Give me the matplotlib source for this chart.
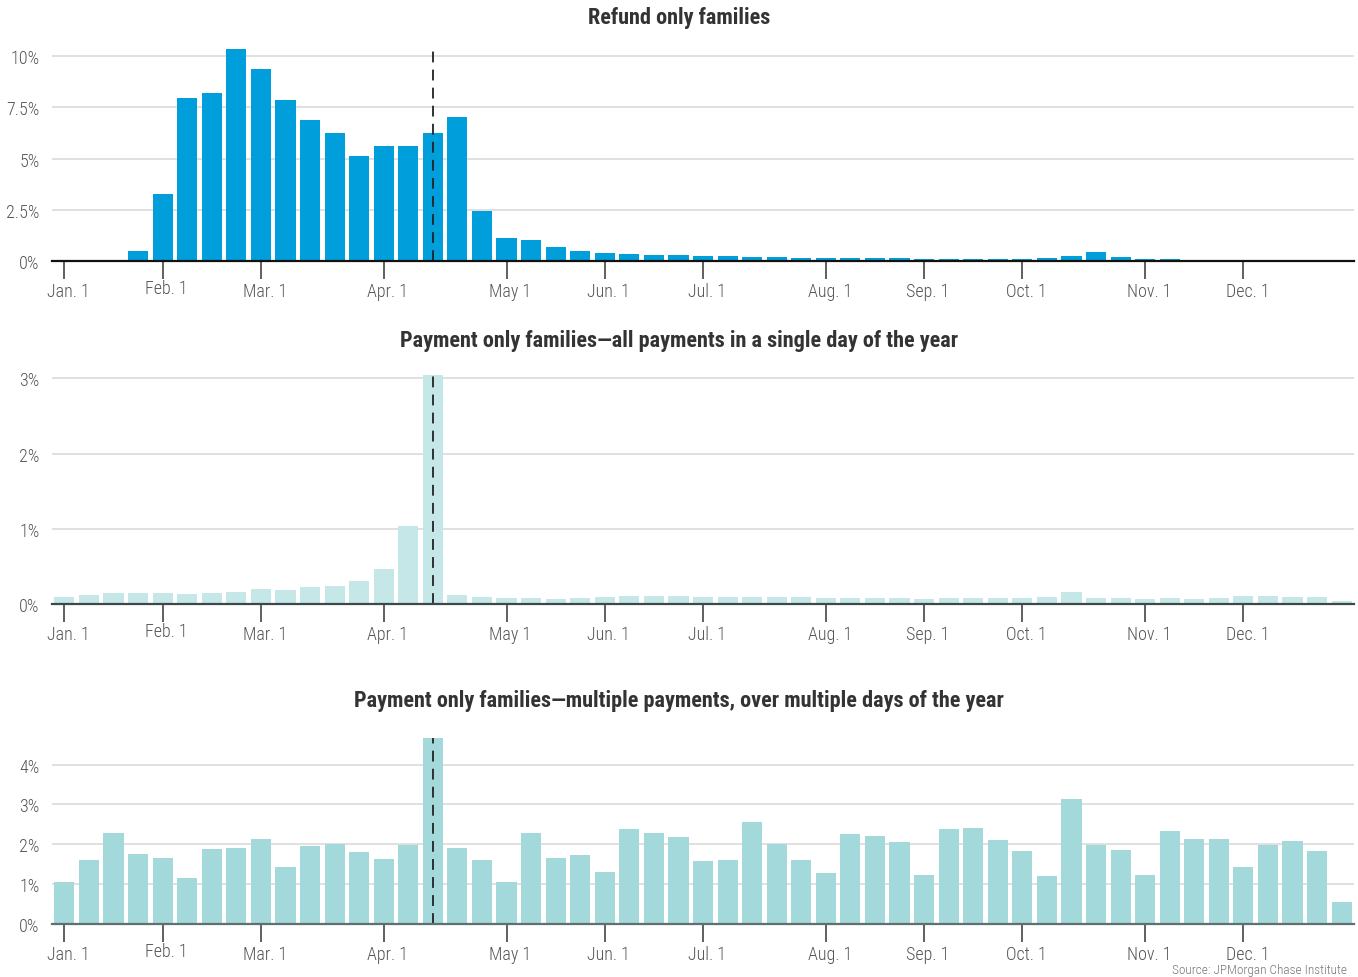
import matplotlib
matplotlib.use("Agg")
import matplotlib.pyplot as plt
import matplotlib.transforms as mtransforms
from matplotlib import font_manager

# pick a narrow font if one is installed
names = {f.name for f in font_manager.fontManager.ttflist}
for cand in ["Roboto Condensed", "Liberation Sans Narrow", "Lato", "DejaVu Sans"]:
    if cand in names:
        plt.rcParams["font.family"] = [cand, "DejaVu Sans"]
        break

# week index of the first bar in each month
month_labels = ["Jan. 1", "Feb. 1", "Mar. 1", "Apr. 1", "May 1", "Jun. 1",
                "Jul. 1", "Aug. 1", "Sep. 1", "Oct. 1", "Nov. 1", "Dec. 1"]
month_weeks = [0, 4, 8, 13, 18, 22, 26, 31, 35, 39, 44, 48]
tax_week = 15

refund_only = [0.05, 0.05, 0.05, 0.49, 3.26, 7.94, 8.23, 10.37, 9.40, 7.84,
               6.87, 6.23, 5.11, 5.60, 5.60, 6.23, 7.01, 2.44, 1.12, 1.02,
               0.68, 0.49, 0.39, 0.34, 0.29, 0.29, 0.24, 0.24, 0.20, 0.20,
               0.15, 0.15, 0.15, 0.15, 0.15, 0.10, 0.10, 0.10, 0.10, 0.10,
               0.15, 0.24, 0.44, 0.20, 0.10, 0.10, 0.05, 0.05, 0.05, 0.05,
               0.05, 0.05, 0.05]

payment_single = [0.09, 0.115, 0.14, 0.14, 0.14, 0.13, 0.14, 0.155, 0.195, 0.18,
                  0.22, 0.235, 0.30, 0.46, 1.03, 3.04, 0.115, 0.09, 0.075, 0.075,
                  0.06, 0.075, 0.09, 0.10, 0.10, 0.10, 0.09, 0.09, 0.09, 0.09,
                  0.09, 0.075, 0.075, 0.075, 0.075, 0.06, 0.075, 0.075, 0.075, 0.075,
                  0.09, 0.155, 0.075, 0.075, 0.06, 0.075, 0.06, 0.075, 0.10, 0.10,
                  0.09, 0.09, 0.035]

payment_multi = [1.05, 1.60, 2.28, 1.75, 1.65, 1.15, 1.88, 1.90, 2.13, 1.43,
                 1.95, 2.00, 1.80, 1.63, 1.99, 4.67, 1.90, 1.60, 1.05, 2.28,
                 1.65, 1.73, 1.30, 2.38, 2.28, 2.18, 1.58, 1.60, 2.56, 2.00,
                 1.60, 1.28, 2.26, 2.21, 2.06, 1.23, 2.39, 2.41, 2.11, 1.83,
                 1.20, 3.14, 1.98, 1.86, 1.23, 2.34, 2.13, 2.13, 1.43, 1.98,
                 2.08, 1.83, 0.55]

panels = [
    ("Refund only families", refund_only, "#009fdb", "#111111",
     [0, 2.5, 5, 7.5, 10], ["0%", "2.5%", "5%", "7.5%", "10%"], 10.5,
     [0.0384, 0.7321, 0.9586, 0.2198]),
    ("Payment only families\u2014all payments in a single day of the year", payment_single,
     "#c5e7e8", "#3d4848", [0, 1, 2, 3], ["0%", "1%", "2%", "3%"], 3.045,
     [0.0384, 0.3817, 0.9586, 0.2338]),
    ("Payment only families\u2014multiple payments, over multiple days of the year", payment_multi,
     "#a3d9db", "#5e7070", [0, 1, 2, 3, 4], ["0%", "1%", "2%", "3%", "4%"], 4.67,
     [0.0384, 0.0545, 0.9586, 0.1899]),
]

title_y = [0.982, 0.651, 0.283]

fig = plt.figure(figsize=(13.58, 9.78), dpi=100)
# month labels sit a few pixels right of their tick
shift = mtransforms.ScaledTranslation(4 / 100, 0, fig.dpi_scale_trans)

for (title, vals, color, base_color, yt, ytl, ytop, rect), ty in zip(panels, title_y):
    ax = fig.add_axes(rect)
    x = list(range(len(vals)))
    ax.bar(x, vals, width=0.82, color=color, zorder=2)
    ax.axvline(tax_week, color="#222222", lw=1.3, dashes=(6, 4), zorder=3)
    ax.set_xlim(-0.5, len(vals) - 0.5)
    ax.set_ylim(0, ytop)
    ax.set_yticks(yt)
    ax.set_yticklabels(ytl, fontweight="light")
    ax.grid(axis="y", color="#dddddd", lw=1.3, zorder=0)
    ax.set_xticks(month_weeks)
    ax.set_xticklabels(month_labels, fontweight="light")
    for s in ["top", "right", "left"]:
        ax.spines[s].set_visible(False)
    ax.spines["bottom"].set_color(base_color)
    ax.spines["bottom"].set_linewidth(1.6)
    ax.spines["bottom"].set_zorder(4)
    ax.tick_params(axis="y", length=0, pad=9, labelsize=13, labelcolor="#555555")
    ax.tick_params(axis="x", length=13, width=1.2, color="#444444", pad=2,
                   labelsize=13, labelcolor="#555555")
    # the Feb. label sits a little higher in the original
    ax.xaxis.get_major_ticks()[1].set_pad(0)
    for lab in ax.get_xticklabels():
        lab.set_transform(lab.get_transform() + shift)
    fig.text(0.5, ty, title, ha="center", va="center", fontsize=16,
             fontweight="bold", color="#333333")

fig.text(0.992, 0.001, "Source: JPMorgan Chase Institute", ha="right", va="bottom",
         fontsize=9.5, color="#777777", fontweight="light")

fig.savefig("out.png", dpi=100)
